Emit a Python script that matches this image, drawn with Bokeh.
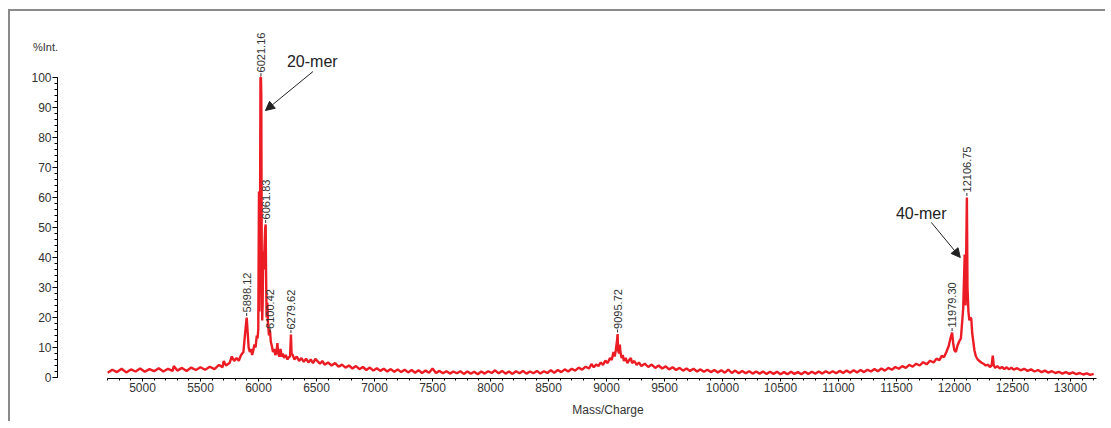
import math
from bokeh.plotting import figure
from bokeh.layouts import column
from bokeh.models import Range1d, SingleIntervalTicker, Div, Arrow, NormalHead, ColumnDataSource
from bokeh.core.properties import value
from bokeh.embed import file_html
from bokeh.resources import INLINE

# ---- spectrum (m/z, %Int.) ----
mz = [
    4700, 4740, 4780, 4820, 4860, 4900, 4940, 4980, 5020, 5060,
    5100, 5140, 5180, 5220, 5260, 5270, 5300, 5340, 5380, 5420,
    5460, 5500, 5540, 5580, 5620, 5660, 5690, 5700, 5720, 5750,
    5770, 5790, 5810, 5830, 5850, 5870, 5885, 5898.12, 5905, 5915,
    5925, 5935, 5945, 5955, 5965, 5975, 5985, 5992, 5998, 6004,
    6008, 6012, 6017, 6021.16, 6024, 6028, 6032, 6036, 6040, 6046,
    6052, 6058, 6061.83, 6065, 6070, 6076, 6082, 6090, 6096, 6100.42,
    6106, 6115, 6125, 6135, 6145, 6155, 6163, 6170, 6180, 6190,
    6200, 6210, 6220, 6235, 6250, 6262, 6272, 6279.62, 6285, 6295,
    6310, 6330, 6350, 6370, 6390, 6410, 6430, 6450, 6470, 6490,
    6510, 6530, 6550, 6570, 6600, 6630, 6660, 6690, 6720, 6750,
    6780, 6810, 6840, 6870, 6900, 6930, 6960, 6990, 7020, 7050,
    7080, 7110, 7140, 7170, 7200, 7230, 7260, 7290, 7320, 7350,
    7380, 7410, 7440, 7470, 7500, 7530, 7560, 7590, 7620, 7650,
    7680, 7710, 7740, 7770, 7800, 7830, 7860, 7890, 7920, 7950,
    7980, 8010, 8040, 8070, 8100, 8130, 8160, 8190, 8220, 8250,
    8280, 8310, 8340, 8370, 8400, 8430, 8460, 8490, 8520, 8550,
    8580, 8610, 8640, 8670, 8700, 8730, 8760, 8790, 8820, 8850,
    8870, 8890, 8910, 8930, 8950, 8970, 8990, 9010, 9030, 9045,
    9060, 9070, 9080, 9090, 9095.72, 9100, 9108, 9115, 9120, 9130,
    9140, 9150, 9165, 9180, 9195, 9210, 9220, 9240, 9260, 9280,
    9300, 9330, 9360, 9390, 9420, 9450, 9480, 9510, 9540, 9570,
    9600, 9630, 9660, 9690, 9720, 9750, 9780, 9810, 9840, 9870,
    9900, 9930, 9960, 9990, 10020, 10050, 10080, 10110, 10140, 10170,
    10200, 10230, 10260, 10290, 10320, 10350, 10380, 10410, 10440, 10470,
    10500, 10530, 10560, 10590, 10620, 10650, 10680, 10710, 10740, 10770,
    10800, 10830, 10860, 10890, 10920, 10950, 10980, 11010, 11040, 11070,
    11100, 11130, 11160, 11190, 11220, 11250, 11280, 11310, 11340, 11370,
    11400, 11430, 11460, 11490, 11520, 11550, 11580, 11610, 11640, 11670,
    11700, 11730, 11760, 11790, 11820, 11845, 11870, 11890, 11910, 11930,
    11950, 11965, 11979.30, 11990, 12000, 12012, 12025, 12040, 12055, 12075,
    12088, 12095, 12102, 12106.75, 12112, 12120, 12128, 12136, 12145, 12152,
    12162, 12172, 12185, 12200, 12215, 12230, 12250, 12270, 12290, 12305,
    12320, 12330, 12338, 12350, 12370, 12390, 12410, 12430, 12450, 12470,
    12490, 12510, 12540, 12570, 12600, 12630, 12660, 12690, 12720, 12750,
    12780, 12810, 12840, 12870, 12900, 12930, 12960, 12990, 13020, 13050,
    13080, 13110, 13140, 13170, 13200,
]
intensity = [
    1.6, 2.6, 1.8, 2.9, 1.7, 2.7, 2.0, 3.0, 1.9, 2.8,
    2.1, 3.1, 2.0, 2.9, 2.2, 3.8, 2.3, 3.2, 2.2, 3.3,
    2.5, 3.4, 2.6, 3.6, 2.8, 4.2, 3.4, 5.5, 4.0, 4.8,
    7.0, 5.5, 6.5, 5.6, 7.5, 8.5, 15, 20, 16, 10,
    8.5, 9.5, 7.5, 9, 11, 10, 14, 13, 16, 62,
    22, 40, 100, 100, 94, 40, 19, 25, 42, 36,
    44, 50, 51, 35, 20, 25, 18, 14, 16, 15,
    12, 10.5, 8.5, 9.5, 7.5, 8.5, 11.5, 8, 7, 9.5,
    7, 8, 6.5, 7.5, 6, 6.8, 7, 14.3, 8, 7.5,
    6, 7, 5.5, 6.5, 5.2, 6.3, 5.0, 6.0, 4.8, 6.2,
    5.4, 4.6, 5.5, 4.3, 5.0, 4.0, 4.8, 3.6, 4.3, 3.3,
    4.0, 3.0, 3.8, 2.8, 3.5, 2.5, 3.3, 2.3, 3.1, 2.2,
    2.9, 2.0, 2.8, 1.9, 2.7, 1.8, 2.6, 1.7, 2.5, 1.6,
    2.4, 1.5, 2.3, 1.6, 3.0, 1.5, 2.2, 1.4, 2.1, 1.3,
    2.0, 1.4, 2.1, 1.2, 2.0, 1.3, 1.9, 1.1, 2.0, 1.3,
    2.1, 1.5, 2.4, 1.4, 2.2, 1.3, 2.0, 1.2, 2.1, 1.4,
    2.2, 1.3, 2.0, 1.4, 2.2, 1.3, 2.1, 1.5, 2.4, 1.6,
    2.5, 1.8, 2.7, 2.0, 2.9, 2.3, 3.3, 2.6, 3.6, 3.0,
    4.5, 3.4, 4.3, 3.8, 5.0, 4.2, 5.6, 4.8, 6.5, 5.8,
    8.5, 7, 9, 12, 14.5, 9, 8, 11, 8.5, 6.5,
    7.5, 5.5, 6.5, 4.8, 5.8, 6.5, 4.8, 5.5, 4.2, 5.0,
    3.8, 4.6, 3.5, 4.3, 3.2, 4.0, 3.0, 3.7, 2.7, 3.4,
    2.5, 3.2, 2.3, 3.0, 2.2, 2.9, 2.0, 2.7, 1.9, 2.6,
    1.8, 2.5, 1.7, 2.4, 1.6, 2.6, 1.5, 2.3, 1.4, 2.2,
    1.4, 2.1, 1.3, 2.0, 1.3, 2.0, 1.2, 1.9, 1.2, 1.9,
    1.1, 1.8, 1.1, 1.9, 1.2, 1.8, 1.1, 1.9, 1.2, 1.9,
    1.3, 2.0, 1.3, 2.1, 1.4, 2.1, 1.4, 2.2, 1.5, 2.3,
    1.6, 2.4, 1.7, 2.5, 1.8, 2.6, 2.0, 2.8, 2.1, 3.0,
    2.3, 3.2, 2.6, 3.5, 2.9, 3.8, 3.2, 4.2, 3.6, 4.6,
    4.0, 5.1, 4.4, 5.6, 5.0, 6.3, 5.8, 7.2, 6.8, 8.5,
    10.5, 13, 15, 11, 9, 8.5, 10.5, 12, 13, 23,
    41, 24, 45, 60, 30, 22, 19, 20, 19.5, 15,
    12, 9, 7, 6.0, 5.5, 5.0, 4.6, 4.0, 4.3, 3.5,
    4.0, 7.3, 4.2, 3.2, 3.8, 3.0, 3.5, 2.8, 3.4, 2.7,
    3.3, 2.6, 3.1, 2.4, 2.9, 2.2, 2.7, 2.0, 2.5, 1.8,
    2.3, 1.6, 2.1, 1.5, 1.9, 1.3, 1.8, 1.2, 1.7, 1.1,
    1.5, 1.0, 1.4, 0.9, 1.2,
]
assert len(mz) == len(intensity)

# ---- peak labels ----
peak_labels = ["5898.12", "6021.16", "6061.83", "6100.42", "6279.62", "9095.72", "11979.30", "12106.75"]
peak_mz = [5898.12, 6021.16, 6061.83, 6100.42, 6279.62, 9095.72, 11979.30, 12106.75]
peak_top = [20, 100, 51, 14.5, 14.3, 14.5, 15, 60]

# ---- annotations ----
notes = ["20-mer", "40-mer"]
note_mz = [6245, 11495]
note_y = [105.3, 54.7]
arrow_from_mz = [6470, 11800]
arrow_from_y = [102, 51.7]
arrow_to_mz = [6060, 12050]
arrow_to_y = [89, 40]
y_title = "%Int."
x_title = "Mass/Charge"

FONT = "Liberation Sans"
RED = "#ec1c24"

p = figure(width=1097, height=412, title=None,
           x_range=Range1d(4267.2, 13232.8), y_range=Range1d(-1/3, 119.33),
           output_backend="svg", toolbar_location=None,
           min_border_left=47, min_border_right=10, min_border_top=8, min_border_bottom=45)
p.styles = {"border-top": "2px solid #8a8a8a", "border-left": "2px solid #8a8a8a",
            "margin-top": "9px", "margin-left": "8px"}
p.outline_line_color = None
p.xgrid.visible = False
p.ygrid.visible = False
p.background_fill_color = "white"
p.border_fill_color = "white"

p.line(mz, intensity, line_color=RED, line_width=2.4)

# peak label leaders and texts
src = ColumnDataSource(dict(
    x=peak_mz, y0=[v + 0.5 for v in peak_top], y1=[v + 1.5 for v in peak_top],
    ty=[v + 1.7 for v in peak_top], t=peak_labels))
p.segment(x0="x", y0="y0", x1="x", y1="y1", source=src, line_color="#333333", line_width=1)
p.text(x="x", y="ty", text="t", source=src, angle=math.pi / 2,
       text_align="left", text_baseline="middle",
       text_font=value(FONT), text_font_size="11px", text_color="#333333")

# n-mer notes with arrows
p.text(x=note_mz, y=note_y, text=notes, text_align="left", text_baseline="middle",
       text_font=value(FONT), text_font_size="16px", text_color="#222222")
for i in range(len(notes)):
    p.add_layout(Arrow(end=NormalHead(size=9, fill_color="#222222", line_color="#222222"),
                       x_start=arrow_from_mz[i], y_start=arrow_from_y[i],
                       x_end=arrow_to_mz[i], y_end=arrow_to_y[i],
                       line_color="#222222", line_width=1))

# axes
xa = p.xaxis[0]
xa.ticker = SingleIntervalTicker(interval=500, num_minor_ticks=5)
xa.bounds = (4698, 13224)
xa.major_label_text_font = FONT
xa.major_label_text_font_size = "12px"
xa.major_label_text_color = "#333333"
xa.major_label_standoff = 1
xa.major_tick_out = 3
xa.major_tick_in = 0
xa.minor_tick_out = 2
xa.minor_tick_in = 0
xa.axis_line_color = "black"

ya = p.yaxis[0]
ya.ticker = SingleIntervalTicker(interval=10, num_minor_ticks=5)
ya.bounds = (0, 100)
ya.major_label_text_font = FONT
ya.major_label_text_font_size = "12px"
ya.major_label_text_color = "#333333"
ya.major_label_standoff = 1
ya.major_tick_out = 5
ya.major_tick_in = 0
ya.minor_tick_out = 3
ya.minor_tick_in = 0
ya.axis_line_color = "black"

# axis titles sit where the reference has them (outside the frame)
ytitle = Div(text=y_title, styles={"position": "absolute", "left": "28px", "top": "36px",
                                   "font-family": FONT, "font-size": "11px", "color": "#333333",
                                   "line-height": "12px"})
xtitle = Div(text=x_title, styles={"position": "absolute", "left": "553px", "top": "399px",
                                   "width": "100px", "text-align": "center",
                                   "font-family": FONT, "font-size": "12px", "color": "#333333",
                                   "line-height": "12px"})

layout = column(p, ytitle, xtitle)
open("out.html", "w").write(file_html(layout, INLINE))
